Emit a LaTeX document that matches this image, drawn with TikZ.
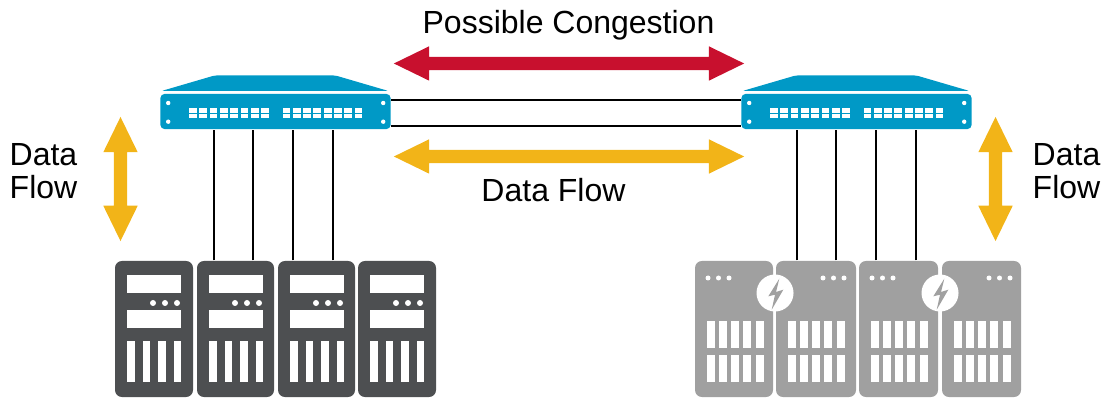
\documentclass[tikz,border=0pt]{standalone}
\usepackage{fontspec}
\setmainfont{Liberation Sans}
\usepackage{tikz}
\usetikzlibrary{shapes.arrows}

\definecolor{swblue}{RGB}{0,153,198}
\definecolor{flowred}{RGB}{200,16,46}
\definecolor{flowyellow}{RGB}{242,180,24}
\definecolor{rackdark}{RGB}{77,79,81}
\definecolor{rackgray}{RGB}{160,160,160}

\tikzset{
    label/.style={inner sep=0, font=\fontsize{9.1}{9.4}\selectfont},
    link/.style={draw=black, line width=.7pt},
    hole/.style={fill=white},
    flow/.style={shape=double arrow, inner sep=0, text height=.12cm, text depth=0pt, text width=0pt,
        double arrow head extend=.105cm, double arrow tip angle=52, fill=flowyellow},
    switch/.style={fill=swblue, rounded corners=.4mm, inner sep=0,
        minimum width=2.3cm, minimum height=.35cm},
    rack/.style={rounded corners=.7mm, inner sep=0, minimum height=1.36cm},
}

% switch centred on #2
\newcommand{\swbox}[2]{
    \node[switch] (#1) at (#2,111.5) {};
    \begin{scope}[shift={(#2,0)}]
        \fill[swblue, rounded corners=.2mm] (-114,91) -- (-61,75.5) -- (60,75.5) -- (113,91) -- cycle;
        \fill[hole] (-107.3,103) circle (2.2);
        \fill[hole] (-107.3,121.7) circle (2.2);
        \fill[hole] (107.7,103) circle (2.2);
        \fill[hole] (107.7,121.7) circle (2.2);
        \foreach \b in {-86.5,7} {
            \foreach \i in {0,...,7} {
                \fill[hole] ({\b+\i*10.3},108) rectangle ({\b+\i*10.3+7.8},113);
                \fill[hole] ({\b+\i*10.3},114.5) rectangle ({\b+\i*10.3+7.8},118);
            }
        }
    \end{scope}
}

% dark rack, #2 is the left edge, #3 the width
\newcommand{\rackA}[3]{
    \node[rack, fill=rackdark, minimum width=#3*.01cm] (#1) at ({#2+#3/2},329) {};
    \begin{scope}[shift={(#2,0)}]
        \fill[hole] (12,275) rectangle (66,293);
        \fill[hole] (12,310) rectangle (66,328);
        \foreach \d in {38,50,62} { \fill[hole] (\d,303) circle (3); }
        \foreach \i in {0,...,3} { \fill[hole] ({12+\i*15.5},341) rectangle ({19.5+\i*15.5},382); }
    \end{scope}
}

% gray rack, #4 is the left end of the dots
\newcommand{\rackB}[4]{
    \node[rack, fill=rackgray, minimum width=#3*.01cm] (#1) at ({#2+#3/2},329) {};
    \begin{scope}[shift={(#2,0)}]
        \foreach \d in {0,10.5,21} { \fill[hole] ({#4+\d},278) circle (2.5); }
        \foreach \i in {0,...,4} {
            \fill[hole] ({11.5+\i*12.3},321) rectangle ({19.5+\i*12.3},348);
            \fill[hole] ({11.5+\i*12.3},355) rectangle ({19.5+\i*12.3},382);
        }
    \end{scope}
}

% lightning badge
\newcommand{\bolt}[2]{
    \node[circle, fill=white, inner sep=0, minimum size=.37cm] (#1) at (#2,293) {};
    \fill[rackgray, shift={(#2,293)}] (4.3,-14.3) -- (-6.7,3.3) -- (0,1.7) -- (-3.3,16.7) -- (8.3,-3.3) -- (1,-1) -- cycle;
}

\begin{document}
\begin{tikzpicture}[x=.01cm, y=-.01cm]
    \useasboundingbox (0,0) rectangle (1104,401);

    % switches
    \swbox{swleft}{275.5}
    \swbox{swright}{856.5}
    \draw[link] ([yshift=.115cm]swleft.east) -- ([yshift=.115cm]swright.west);
    \draw[link] ([yshift=-.145cm]swleft.east) -- ([yshift=-.145cm]swright.west);

    % left racks
    \rackA{srvA}{115}{78}
    \rackA{srvB}{197}{77}
    \rackA{srvC}{278}{77}
    \rackA{srvD}{358}{78}
    \draw[link] ([xshift=-.215cm]srvB.north) -- ([xshift=-.215cm]srvB.north |- swleft.south);
    \draw[link] ([xshift=.175cm]srvB.north) -- ([xshift=.175cm]srvB.north |- swleft.south);
    \draw[link] ([xshift=-.235cm]srvC.north) -- ([xshift=-.235cm]srvC.north |- swleft.south);
    \draw[link] ([xshift=.165cm]srvC.north) -- ([xshift=.165cm]srvC.north |- swleft.south);

    % right racks
    \rackB{srvE}{695}{78}{13}
    \rackB{srvF}{776}{80}{47}
    \rackB{srvG}{859}{79}{13}
    \rackB{srvH}{942}{79}{47}
    \draw[link] ([xshift=-.19cm]srvF.north) -- ([xshift=-.19cm]srvF.north |- swright.south);
    \draw[link] ([xshift=.2cm]srvF.north) -- ([xshift=.2cm]srvF.north |- swright.south);
    \draw[link] ([xshift=-.225cm]srvG.north) -- ([xshift=-.225cm]srvG.north |- swright.south);
    \draw[link] ([xshift=.175cm]srvG.north) -- ([xshift=.175cm]srvG.north |- swright.south);
    \bolt{boltA}{775}
    \bolt{boltB}{940}

    % arrows
    \node[flow, fill=flowred, minimum height=3.5cm] (congest) at (569,63.5) {};
    \node[flow, minimum height=3.5cm] (flowmid) at (569,156.5) {};
    \node[flow, minimum height=1.24cm, rotate=90] (flowleft) at (120.5,179) {};
    \node[flow, minimum height=1.24cm, rotate=90] (flowright) at (995.5,179) {};

    % labels
    \node[label] (congestlabel) at (568.5,25) {Possible Congestion};
    \node[label] (flowlabel) at (553.5,190) {Data Flow};
    \node[label, anchor=west, align=left] (lefttext) at (9,171) {Data\\Flow};
    \node[label, anchor=west, align=left] (righttext) at (1032,171) {Data\\Flow};
\end{tikzpicture}
\end{document}
